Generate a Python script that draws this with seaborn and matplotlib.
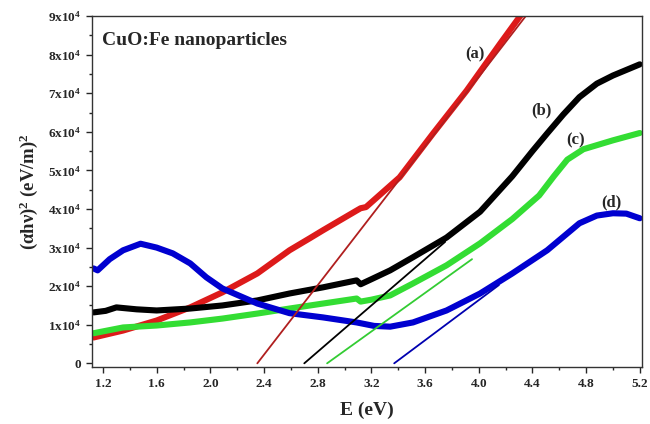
import matplotlib
matplotlib.use("Agg")
import matplotlib.pyplot as plt
import seaborn as sns
import numpy as np
import pandas as pd
from matplotlib.ticker import MultipleLocator, FuncFormatter

# ---- data ----
x_a = [1.13, 1.35, 1.6, 1.85, 2.09, 2.35, 2.59, 2.74, 2.84, 3.09, 3.12, 3.16, 3.41, 3.66, 3.91, 4.16, 4.35]
y_a = [6700, 8500, 11100, 14500, 18400, 23300, 29300, 32400, 34500, 39600, 40200, 40500, 48200, 59600, 70700, 82900, 92000]

x_b = [1.13, 1.22, 1.3, 1.45, 1.6, 1.85, 2.09, 2.35, 2.59, 2.84, 3.09, 3.12, 3.2, 3.34, 3.51, 3.76, 4.01, 4.25, 4.40, 4.51, 4.63, 4.75, 4.88, 5.0, 5.2]
y_b = [13200, 13600, 14500, 14000, 13700, 14200, 15000, 16300, 18100, 19700, 21500, 20500, 21800, 24100, 27500, 32600, 39300, 48500, 55000, 59600, 64500, 69000, 72500, 74600, 77500]

x_c = [1.13, 1.35, 1.6, 1.85, 2.09, 2.35, 2.59, 2.84, 3.09, 3.12, 3.2, 3.34, 3.51, 3.76, 4.01, 4.25, 4.45, 4.56, 4.66, 4.78, 5.0, 5.2]
y_c = [7800, 9300, 9800, 10600, 11600, 12900, 14200, 15500, 16800, 16000, 16500, 17600, 20700, 25400, 31100, 37400, 43500, 48500, 52800, 55500, 57800, 59700]

x_d = [1.13, 1.16, 1.25, 1.35, 1.48, 1.6, 1.72, 1.85, 1.97, 2.09, 2.35, 2.59, 2.84, 3.09, 3.22, 3.34, 3.51, 3.76, 4.01, 4.25, 4.51, 4.75, 4.88, 5.0, 5.1, 5.2]
y_d = [24600, 24100, 27000, 29300, 31000, 30000, 28500, 25900, 22300, 19400, 15500, 13000, 11900, 10600, 9700, 9500, 10600, 13700, 18100, 23300, 29300, 36300, 38300, 38900, 38800, 37600]

series = ["(a)", "(b)", "(c)", "(d)"]
curve_colors = ["#dd1a1a", "#000000", "#33dd33", "#0000d0"]

# tangent (Tauc) lines: x-intercept, slope, end x
tan_x0 = [2.35, 2.70, 2.87, 3.37]
tan_slope = [45000, 30000, 25000, 26000]
tan_x1 = [4.40, 3.75, 3.95, 4.15]
tan_colors = ["#b01f1f", "#000000", "#33cc33", "#0000b0"]

label_x = [3.97, 4.47, 4.72, 4.99]
label_y = [80000, 65500, 57800, 41700]

# ---- style ----
sns.set_theme(style="ticks")
plt.rcParams["font.family"] = ["Liberation Serif", "DejaVu Serif"]
plt.rcParams["font.weight"] = "bold"
plt.rcParams["mathtext.fontset"] = "custom"
plt.rcParams["mathtext.rm"] = "Liberation Serif:bold"
plt.rcParams["mathtext.it"] = "Liberation Serif:italic:bold"
plt.rcParams["mathtext.bf"] = "Liberation Serif:bold"

fig = plt.figure(figsize=(6.5, 4.24), dpi=100)
ax = fig.add_axes([0.1415, 0.134, 0.8465, 0.828])

frames = []
for name, xs, ys in zip(series, [x_a, x_b, x_c, x_d], [y_a, y_b, y_c, y_d]):
    frames.append(pd.DataFrame({"E": xs, "val": ys, "sample": name}))
df = pd.concat(frames, ignore_index=True)

sns.lineplot(data=df, x="E", y="val", hue="sample", palette=curve_colors,
             linewidth=4.4, legend=False, ax=ax, sort=False, estimator=None)

tan_frames = []
for name, x0, m, x1 in zip(series, tan_x0, tan_slope, tan_x1):
    xs = [x0, x1]
    ys = [m * (v - x0) for v in xs]
    tan_frames.append(pd.DataFrame({"E": xs, "val": ys, "sample": name}))
tdf = pd.concat(tan_frames, ignore_index=True)
sns.lineplot(data=tdf, x="E", y="val", hue="sample", palette=tan_colors,
             linewidth=1.3, legend=False, ax=ax, sort=False, estimator=None)

for name, lx, ly in zip(series, label_x, label_y):
    ax.text(lx, ly, name, fontsize=12, fontweight="bold", ha="center", va="center")

ax.text(0.018, 0.93, "CuO:Fe nanoparticles", transform=ax.transAxes,
        fontsize=14, fontweight="bold", ha="left", va="center")

ax.set_xlim(1.118, 5.218)
ax.set_ylim(-1000, 90000)
ax.xaxis.set_major_locator(MultipleLocator(0.4))
ax.xaxis.set_minor_locator(MultipleLocator(0.2))
ax.yaxis.set_major_locator(MultipleLocator(10000))
ax.yaxis.set_minor_locator(MultipleLocator(5000))
ax.xaxis.set_major_formatter(FuncFormatter(lambda v, p: f"{v:.1f}"))

def yfmt(v, p):
    n = int(round(v / 10000))
    if n == 0:
        return "0"
    return f"{n}x10$^{{4}}$"
ax.yaxis.set_major_formatter(FuncFormatter(yfmt))

ax.tick_params(axis="both", which="major", length=4, width=1, labelsize=9.5, direction="out")
ax.tick_params(axis="both", which="minor", length=2.5, width=1, direction="out")
for lab in ax.get_xticklabels() + ax.get_yticklabels():
    lab.set_fontweight("bold")
for sp in ax.spines.values():
    sp.set_visible(True)
    sp.set_linewidth(1.0)
    sp.set_color("#333333")

ax.set_xlabel("E (eV)", fontsize=14, fontweight="bold", labelpad=9)
ax.set_ylabel("(αhν)$^{2}$ (eV/m)$^{2}$", fontsize=13.5, fontweight="bold", labelpad=6)

fig.savefig("out.png", dpi=100)
